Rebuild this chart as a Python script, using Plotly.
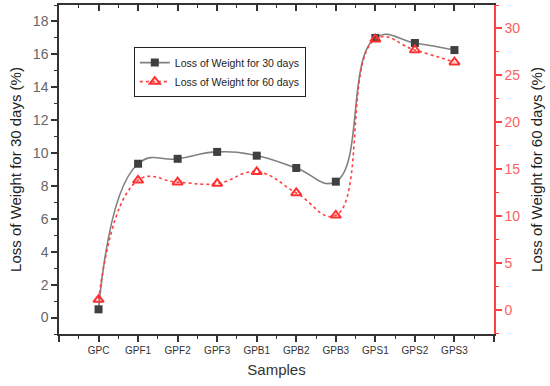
import plotly.graph_objects as go

samples = ["GPC", "GPF1", "GPF2", "GPF3", "GPB1", "GPB2", "GPB3", "GPS1", "GPS2", "GPS3"]
loss_30 = [0.5, 9.35, 9.65, 10.07, 9.84, 9.09, 8.26, 17.0, 16.69, 16.26]
loss_60 = [1.07, 13.8, 13.6, 13.45, 14.7, 12.45, 10.06, 28.85, 27.7, 26.4]

xpos = list(range(1, len(samples) + 1))

fig = go.Figure()
fig.add_trace(go.Scatter(
    x=xpos, y=loss_30, name="Loss of Weight for 30 days",
    mode="lines+markers",
    line=dict(color="#808080", width=1.6, shape="spline", smoothing=1.3),
    marker=dict(symbol="square", size=8, color="#404040", line=dict(width=0)),
    yaxis="y"))
fig.add_trace(go.Scatter(
    x=xpos, y=loss_60, name="Loss of Weight for 60 days",
    mode="lines+markers",
    line=dict(color="#FF4040", width=1.6, dash="dot", shape="spline", smoothing=1.3),
    marker=dict(symbol="triangle-up-open", size=9, color="#FF3030", line=dict(width=2, color="#FF3030")),
    yaxis="y2"))

tickvals = list(range(0, len(samples) + 2))
ticktext = [""] + samples + [""]

fig.update_layout(
    width=550, height=386,
    margin=dict(l=59, r=56, t=5, b=52),
    paper_bgcolor="white", plot_bgcolor="white",
    font=dict(family="Arial, Liberation Sans, sans-serif", color="#333333"),
    showlegend=True,
    legend=dict(x=0.172, y=0.872, xanchor="left", yanchor="top",
                bgcolor="white", bordercolor="#222222", borderwidth=1,
                font=dict(size=10.5, color="#222222"), tracegroupgap=0,
                itemwidth=30),
    xaxis=dict(range=[0, 11], tickmode="array", tickvals=tickvals, ticktext=ticktext,
               automargin=False,
               showgrid=False, zeroline=False, showline=True, linecolor="#333333", linewidth=1.5,
               ticks="outside", ticklen=6, tickcolor="#333333", tickwidth=1.5,
               tickfont=dict(size=10, color="#333333"),
               minor=dict(tickmode="linear", tick0=0.5, dtick=1, ticks="outside", ticklen=3,
                          tickcolor="#333333", tickwidth=1.2, showgrid=False),
               title=dict(text="Samples", font=dict(size=15, color="#333333"), standoff=10)),
    xaxis2=dict(range=[0, 11], overlaying="x", side="top", tickmode="array", tickvals=tickvals,
                automargin=False,
                showticklabels=False, showgrid=False, zeroline=False, showline=True,
                linecolor="#333333", linewidth=1.5, ticks="inside", ticklen=6,
                tickcolor="#333333", tickwidth=1.5,
                minor=dict(tickmode="linear", tick0=0.5, dtick=1, ticks="inside", ticklen=3,
                           tickcolor="#333333", tickwidth=1.2, showgrid=False)),
    yaxis=dict(range=[-1, 19], dtick=2, tick0=0, showgrid=False, zeroline=False,
               automargin=False,
               showline=True, linecolor="#333333", linewidth=1.5,
               ticks="outside", ticklen=6, tickcolor="#333333", tickwidth=1.5,
               tickfont=dict(size=14, color="#666666"),
               minor=dict(dtick=1, tick0=0, ticks="outside", ticklen=3, tickcolor="#333333", tickwidth=1.2),
               title=dict(text="Loss of Weight for 30 days (%)", font=dict(size=15, color="#222222"), standoff=8)),
    yaxis2=dict(range=[-2.6, 32.5], dtick=5, tick0=0, overlaying="y", side="right",
                automargin=False,
                showgrid=False, zeroline=False, showline=True, linecolor="#FF4040", linewidth=1.5,
                ticks="outside", ticklen=6, tickcolor="#FF4040", tickwidth=1.5,
                tickfont=dict(size=14, color="#FF6060"),
                minor=dict(dtick=2.5, tick0=0, ticks="outside", ticklen=3, tickcolor="#FF4040", tickwidth=1.2),
                title=dict(text="Loss of Weight for 60 days (%)", font=dict(size=15, color="#222222"), standoff=12)),
)
fig.add_trace(go.Scatter(x=[None], y=[None], xaxis="x2", showlegend=False, hoverinfo="skip"))

fig.write_html("out.html", config={"displayModeBar": False},
               post_script="document.body.style.margin='0';document.body.style.overflow='hidden';")
